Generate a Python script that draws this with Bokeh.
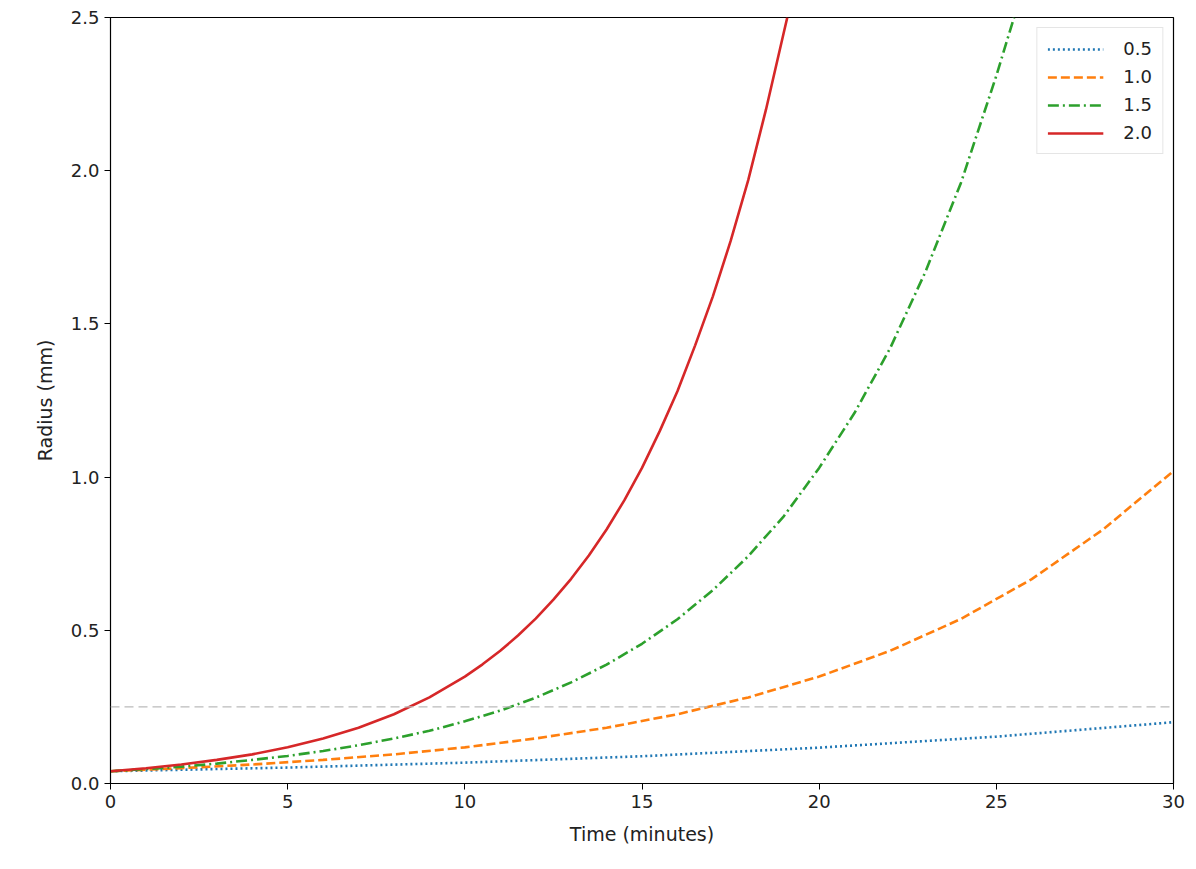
from bokeh.plotting import figure
from bokeh.models import Range1d, Span, FixedTicker, Legend, LegendItem, CustomJSTickFormatter
from bokeh.embed import file_html
from bokeh.resources import INLINE

t_blue = [0, 5, 10, 15, 20, 25, 30]
r_blue = [0.040, 0.052, 0.068, 0.089, 0.117, 0.153, 0.200]
t_orange = [0, 2, 4, 6, 8, 10, 12, 14, 16, 18, 20, 22, 24, 26, 28, 30]
r_orange = [0.040, 0.050, 0.062, 0.077, 0.095, 0.118, 0.147, 0.182, 0.226, 0.281, 0.349, 0.433, 0.537, 0.667, 0.828, 1.02]
t_green = list(range(0, 26)) + [25.5]
r_green = [0.040, 0.047, 0.055, 0.065, 0.077, 0.090, 0.106, 0.125, 0.147, 0.172, 0.203, 0.238, 0.280, 0.330,
           0.388, 0.456, 0.536, 0.631, 0.742, 0.872, 1.03, 1.21, 1.42, 1.67, 1.96, 2.31, 2.5]
t_red = [0, 1, 2, 3, 4, 5, 6, 7, 8, 9, 10, 10.5, 11, 11.5, 12, 12.5, 13, 13.5, 14, 14.5, 15, 15.5, 16, 16.5,
         17, 17.5, 18, 18.5, 19, 19.1]
r_red = [0.040, 0.050, 0.062, 0.077, 0.095, 0.118, 0.147, 0.182, 0.226, 0.281, 0.349, 0.389, 0.433, 0.483,
         0.538, 0.600, 0.668, 0.744, 0.829, 0.924, 1.03, 1.15, 1.28, 1.43, 1.59, 1.77, 1.97, 2.20, 2.45, 2.5]
labels = ["0.5", "1.0", "1.5", "2.0"]
threshold = 0.25

p = figure(width=1188, height=860, output_backend="svg", toolbar_location=None,
           x_range=Range1d(0, 30), y_range=Range1d(0, 2.5),
           min_border_left=110, min_border_right=15, min_border_top=17, min_border_bottom=77)
p.xgrid.visible = False
p.ygrid.visible = False
p.outline_line_color = "black"
p.outline_line_width = 1.2
p.xaxis.ticker = FixedTicker(ticks=[0, 5, 10, 15, 20, 25, 30])
p.yaxis.ticker = FixedTicker(ticks=[0, 0.5, 1.0, 1.5, 2.0, 2.5])
p.yaxis.formatter = CustomJSTickFormatter(code="return tick.toFixed(1);")
for ax in [p.xaxis, p.yaxis]:
    ax.major_label_text_font = "DejaVu Sans"
    ax.major_label_text_font_size = "18px"
    ax.major_label_text_color = "#222222"
    ax.axis_label_text_font = "DejaVu Sans"
    ax.axis_label_text_font_size = "19px"
    ax.axis_label_text_font_style = "normal"
    ax.axis_label_text_color = "#222222"
    ax.axis_label_standoff = 12
    ax.minor_tick_line_color = None
    ax.major_tick_out = 6
    ax.major_tick_in = 0
    ax.axis_line_color = "black"
p.xaxis.axis_label = "Time (minutes)"
p.yaxis.axis_label = "Radius (mm)"

p.add_layout(Span(location=threshold, dimension="width", line_color="#bbbbbb",
                  line_dash="9 5", line_width=1.3))

l1 = p.line(t_blue, r_blue, line_color="#1f77b4", line_width=2.6, line_dash="2 3")
l2 = p.line(t_orange, r_orange, line_color="#ff7f0e", line_width=2.6, line_dash="9 4")
l3 = p.line(t_green, r_green, line_color="#2ca02c", line_width=2.6, line_dash="11 4 2 4")
l4 = p.line(t_red, r_red, line_color="#d62728", line_width=2.6)

legend = Legend(items=[LegendItem(label=labels[i], renderers=[r]) for i, r in enumerate([l1, l2, l3, l4])],
                location="top_right", label_text_font="DejaVu Sans", label_text_font_size="18px",
                label_text_color="#222222", label_standoff=20,
                border_line_color="#cccccc", glyph_width=56, spacing=7, padding=10, margin=10)
p.add_layout(legend)

open("out.html", "w").write(file_html(p, INLINE))
